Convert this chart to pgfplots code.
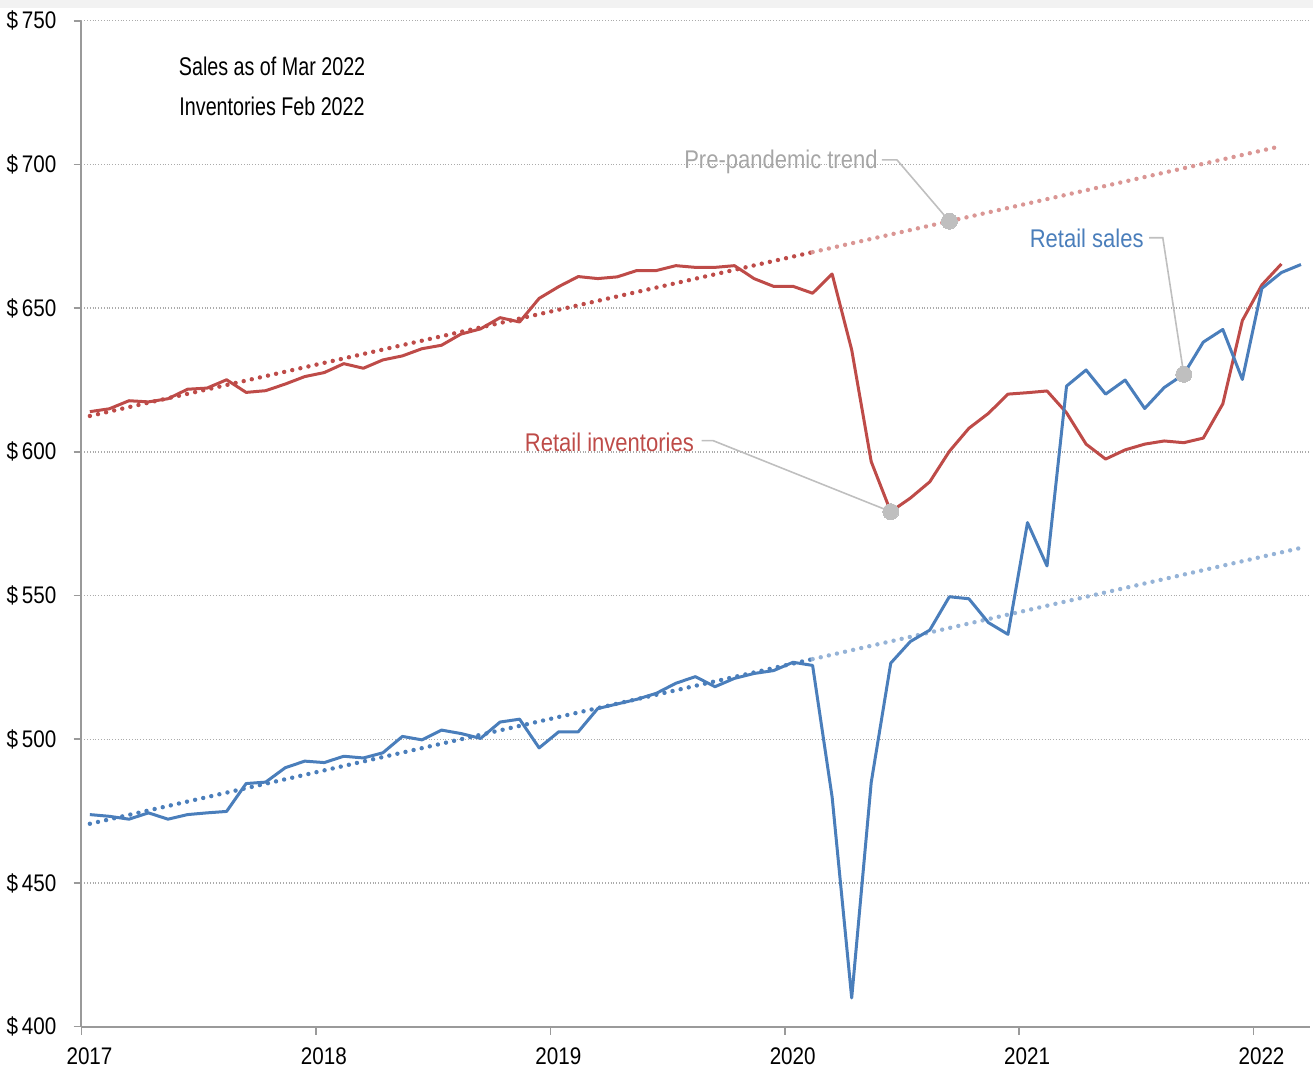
\documentclass[border=0pt]{standalone}
\usepackage{fontspec}
\setmainfont{Liberation Sans}[FakeStretch=0.86]
\newfontfamily\notefont{Liberation Sans}[FakeStretch=0.77]
\newfontfamily\annfont{Liberation Sans}[FakeStretch=0.86]
\usepackage{pgfplots}
\pgfplotsset{compat=1.18}
\usepackage{pgfplotstable}

\definecolor{salesblue}{HTML}{4A7EBB}
\definecolor{invred}{HTML}{BE4B48}
\definecolor{lightred}{HTML}{DA9694}
\definecolor{lightblue}{HTML}{95B3D7}
\definecolor{anngray}{HTML}{A6A6A6}
\definecolor{leadgray}{HTML}{BFBFBF}
\definecolor{gridgray}{HTML}{ABABAB}
\definecolor{axisgray}{HTML}{9A9A9A}
\definecolor{topgray}{HTML}{F2F2F2}

% month index i (0 = Jan 2017), value in $ billions
\pgfplotstableread{
i v
0 473.8
1 473.2
2 472.2
3 474.4
4 472.2
5 473.8
6 474.4
7 474.9
8 484.6
9 485.1
10 490.1
11 492.4
12 491.9
13 494.1
14 493.5
15 495.3
16 501.0
17 499.8
18 503.2
19 502.0
20 500.3
21 506.0
22 507.0
23 497.0
24 502.6
25 502.6
26 510.7
27 512.3
28 513.9
29 516.0
30 519.5
31 521.8
32 518.3
33 521.2
34 522.9
35 523.9
36 526.8
37 525.7
38 479.9
39 410.0
40 485.0
41 526.5
42 534.0
43 538.0
44 549.6
45 548.9
46 540.6
47 536.5
48 575.4
49 560.3
50 622.9
51 628.5
52 620.1
53 625.0
54 615.1
55 622.4
56 627.0
57 638.2
58 642.6
59 625.2
60 656.9
61 662.4
62 665.2
}\sales

\pgfplotstableread{
i v
0 614.0
1 615.0
2 617.8
3 617.4
4 618.5
5 621.8
6 622.2
7 625.1
8 620.7
9 621.3
10 623.6
11 626.2
12 627.6
13 630.7
14 629.1
15 632.0
16 633.4
17 635.9
18 637.1
19 641.0
20 642.8
21 646.7
22 645.2
23 653.4
24 657.5
25 661.0
26 660.3
27 660.9
28 663.1
29 663.1
30 664.8
31 664.2
32 664.2
33 664.8
34 660.3
35 657.6
36 657.6
37 655.2
38 661.9
39 635.5
40 596.6
41 579.2
42 583.9
43 589.6
44 600.2
45 608.2
46 613.4
47 620.1
48 620.6
49 621.2
50 613.6
51 602.7
52 597.5
53 600.7
54 602.7
55 603.8
56 603.2
57 604.8
58 616.7
59 645.7
60 658.1
61 665.4
}\inventories

\begin{document}
\begin{tikzpicture}
\begin{axis}[
  scale only axis,
  width=614.25pt, height=502.95pt,
  xmin=2017, xmax=2022.241,
  ymin=400, ymax=750,
  axis x line=bottom, axis y line=left,
  axis line style={-, draw=axisgray, line width=1pt},
  xtick={2017,2018,2019,2020,2021,2022},
  ytick={400,450,500,550,600,650,700,750},
  tick align=outside,
  major tick length=4pt,
  tick style={draw=axisgray, line width=0.8pt},
  xticklabel={\pgfmathprintnumber[1000 sep={}]{\tick}},
  yticklabel={\$\,\pgfmathprintnumber{\tick}},
  /pgf/number format/assume math mode=true,
  ticklabel style={font=\fontsize{12pt}{14pt}\selectfont, text=black},
  x tick label style={xshift=4pt, yshift=-3pt},
  y tick label style={xshift=-5pt},
  ymajorgrids,
  major grid style={draw=gridgray, line width=0.7pt, dash pattern=on 0.5pt off 0.9pt},
  clip=false,
]
\coordinate (SW) at (rel axis cs:0,0);
\coordinate (NE) at (rel axis cs:1,1);
\coordinate (TL) at (rel axis cs:0,1);

% trend lines
\addplot[draw=invred, line width=2.2pt, line cap=round, dash pattern=on 0pt off 4.15pt]
  coordinates {(2017.0358,612.5) (2020.1192,669.5)};
\addplot[draw=lightred, line width=2.2pt, line cap=round, dash pattern=on 0pt off 4.15pt]
  coordinates {(2020.1192,669.5) (2022.1192,706.4)};
\addplot[draw=salesblue, line width=2.2pt, line cap=round, dash pattern=on 0pt off 4.15pt]
  coordinates {(2017.0358,470.6) (2020.1192,527.9)};
\addplot[draw=lightblue, line width=2.2pt, line cap=round, dash pattern=on 0pt off 4.15pt]
  coordinates {(2020.1192,527.9) (2022.2025,566.6)};

% data series
\addplot[draw=invred, line width=1.5pt, line join=round, no markers]
  table[x expr={2017+(\thisrow{i}+0.43)/12}, y=v]{\inventories};
\addplot[draw=salesblue, line width=1.5pt, line join=round, no markers]
  table[x expr={2017+(\thisrow{i}+0.43)/12}, y=v]{\sales};

% leader lines
\draw[leadgray, line width=0.8pt] (axis cs:2020.414,701.6) -- (axis cs:2020.479,701.6) -- (axis cs:2020.7025,680.26);
\draw[leadgray, line width=0.8pt] (axis cs:2021.555,674.5) -- (axis cs:2021.613,674.5) -- (axis cs:2021.7025,627.0);
\draw[leadgray, line width=0.8pt] (axis cs:2019.646,603.9) -- (axis cs:2019.695,603.9) -- (axis cs:2020.4525,579.2);

% callout points
\addplot[only marks, color=leadgray, mark=*, mark size=4pt, mark options={fill=leadgray, draw=leadgray, line width=0pt}]
  coordinates {(2020.7025,680.26) (2021.7025,627.0) (2020.4525,579.2)};

% annotations
\node[anchor=east, inner sep=0pt, text=anngray, font=\annfont\fontsize{12.8pt}{15pt}\selectfont] at (axis cs:2020.398,701.0) {Pre-pandemic trend};
\node[anchor=east, inner sep=0pt, text=salesblue, font=\annfont\fontsize{12.8pt}{15pt}\selectfont] at (axis cs:2021.533,674.3) {Retail sales};
\node[anchor=east, inner sep=0pt, text=invred, font=\annfont\fontsize{12.8pt}{15pt}\selectfont] at (axis cs:2019.614,603.2) {Retail inventories};
\node[anchor=center, inner sep=0pt, text=black, font=\notefont\fontsize{12.8pt}{15pt}\selectfont] at (axis cs:2017.813,734.3) {Sales as of Mar 2022};
\node[anchor=center, inner sep=0pt, text=black, font=\notefont\fontsize{12.8pt}{15pt}\selectfont] at (axis cs:2017.813,720.4) {Inventories Feb 2022};
\end{axis}
\fill[topgray] ([xshift=-40.75pt,yshift=10.4pt]TL) rectangle ([xshift=1.5pt,yshift=6.4pt]NE);
\pgfresetboundingbox
\path[use as bounding box] ([xshift=-40.75pt,yshift=-21.65pt]SW) rectangle ([xshift=1.5pt,yshift=10.4pt]NE);
\end{tikzpicture}
\end{document}
